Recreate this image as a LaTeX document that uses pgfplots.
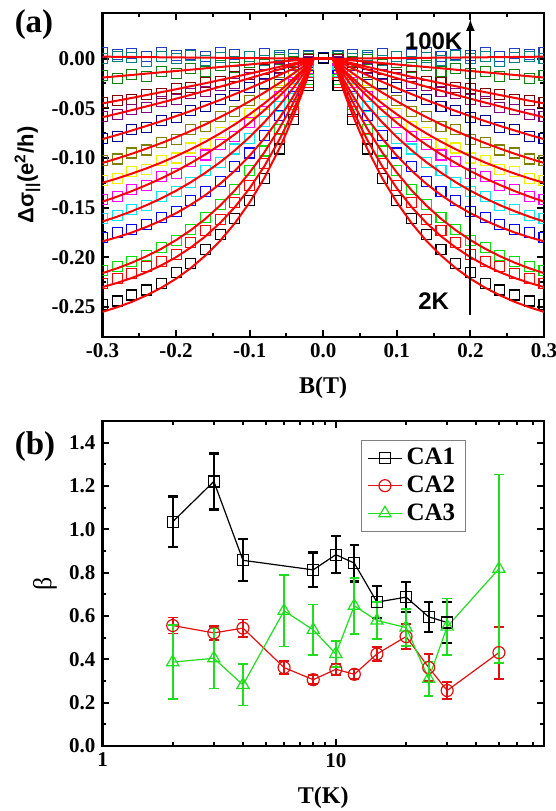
\documentclass[border=0pt]{standalone}
\usepackage{pgfplots}
\pgfplotsset{compat=1.18}
\usepackage{pgfplotstable}
\usepackage{fontspec}
\setmainfont{Liberation Serif}
\newfontfamily\arial{Liberation Sans}
\usetikzlibrary{arrows.meta}

\definecolor{cblack}{HTML}{000000}
\definecolor{cred}{HTML}{FF0000}
\definecolor{cgreen}{HTML}{00E000}
\definecolor{cblue}{HTML}{0000FF}
\definecolor{ccyan}{HTML}{00E8F0}
\definecolor{cmagenta}{HTML}{FF00FF}
\definecolor{cyellow}{HTML}{F0F000}
\definecolor{cdyellow}{HTML}{808000}
\definecolor{cnavy}{HTML}{000090}
\definecolor{cpurple}{HTML}{800080}
\definecolor{cwine}{HTML}{800000}
\definecolor{colive}{HTML}{108010}
\definecolor{cdcyan}{HTML}{008080}
\definecolor{croyal}{HTML}{2040C0}
\definecolor{bred}{HTML}{E01010}
\definecolor{bgreen}{HTML}{20DD20}

% squares, B >= 0 (mirrored for B < 0); c1 = 2K ... c14 = 100K
\pgfplotstableread{
B     c1     c2     c3     c4     c5     c6     c7     c8     c9     c10    c11    c12    c13    c14
0.00  0.000  0.000  0.000  0.000  0.000  0.000  0.000  0.000  0.001  0.001  0.001  0.001  0.001  0.001
0.02 -0.027 -0.024 -0.021 -0.017 -0.013 -0.010 -0.008 -0.006 -0.004 -0.003 -0.001  0.000  0.002  0.003
0.04 -0.061 -0.053 -0.046 -0.038 -0.030 -0.024 -0.021 -0.016 -0.011 -0.007 -0.004 -0.003  0.000  0.004
0.06 -0.091 -0.080 -0.071 -0.057 -0.048 -0.038 -0.032 -0.024 -0.016 -0.010 -0.009 -0.001  0.003  0.001
0.08 -0.121 -0.106 -0.093 -0.077 -0.063 -0.053 -0.046 -0.036 -0.025 -0.016 -0.011 -0.006 -0.002  0.005
0.10 -0.143 -0.128 -0.113 -0.095 -0.080 -0.064 -0.055 -0.042 -0.029 -0.019 -0.016 -0.004  0.002  0.002
0.12 -0.161 -0.145 -0.132 -0.109 -0.091 -0.078 -0.068 -0.053 -0.037 -0.025 -0.018 -0.009 -0.003  0.004
0.14 -0.177 -0.162 -0.147 -0.124 -0.105 -0.086 -0.074 -0.058 -0.041 -0.027 -0.023 -0.007  0.001  0.006
0.16 -0.192 -0.173 -0.160 -0.134 -0.113 -0.097 -0.085 -0.068 -0.048 -0.033 -0.024 -0.013 -0.002  0.002
0.18 -0.206 -0.185 -0.172 -0.143 -0.125 -0.104 -0.090 -0.071 -0.052 -0.035 -0.029 -0.010  0.003  0.004
0.20 -0.215 -0.197 -0.183 -0.154 -0.134 -0.116 -0.100 -0.081 -0.059 -0.041 -0.030 -0.015  0.000  0.003
0.22 -0.226 -0.204 -0.190 -0.160 -0.139 -0.119 -0.103 -0.084 -0.062 -0.043 -0.035 -0.013  0.002  0.006
0.24 -0.233 -0.209 -0.198 -0.167 -0.148 -0.128 -0.112 -0.092 -0.069 -0.049 -0.036 -0.018 -0.003  0.002
0.26 -0.238 -0.216 -0.204 -0.172 -0.152 -0.132 -0.114 -0.095 -0.071 -0.051 -0.041 -0.016  0.001  0.005
0.28 -0.244 -0.221 -0.209 -0.175 -0.158 -0.139 -0.121 -0.101 -0.078 -0.056 -0.042 -0.020  0.002  0.004
0.30 -0.248 -0.226 -0.213 -0.180 -0.161 -0.142 -0.123 -0.103 -0.080 -0.058 -0.044 -0.017  0.000  0.006
}\sq

% fit curves, B >= 0
\pgfplotstableread{
B      f1      f2      f3      f4      f5      f6      f7      f8      f9      f10     f11     f12     f13
0.000  0       0       0       0       0       0       0       0       0       0       0       0       0
0.013  0       0       0       0       0       0       0       0       0       0       0       0       0
0.02  -0.0159 -0.0143 -0.0121 -0.0103 -0.0079 -0.0062 -0.0054 -0.0039 -0.0026 -0.0017 -0.0013 -0.0005 0.0000
0.03  -0.0371 -0.0334 -0.0283 -0.0241 -0.0185 -0.0147 -0.0128 -0.0094 -0.0062 -0.0040 -0.0030 -0.0011 0.0001
0.04  -0.0566 -0.0510 -0.0435 -0.0370 -0.0287 -0.0228 -0.0198 -0.0147 -0.0098 -0.0063 -0.0048 -0.0018 0.0002
0.05  -0.0745 -0.0672 -0.0576 -0.0491 -0.0382 -0.0306 -0.0266 -0.0198 -0.0132 -0.0086 -0.0065 -0.0024 0.0003
0.06  -0.0910 -0.0820 -0.0707 -0.0602 -0.0473 -0.0380 -0.0330 -0.0247 -0.0166 -0.0109 -0.0083 -0.0031 0.0003
0.08  -0.1201 -0.1083 -0.0943 -0.0803 -0.0640 -0.0519 -0.0450 -0.0341 -0.0233 -0.0153 -0.0117 -0.0044 0.0005
0.10  -0.1447 -0.1305 -0.1147 -0.0977 -0.0789 -0.0646 -0.0560 -0.0429 -0.0296 -0.0197 -0.0150 -0.0058 0.0006
0.12  -0.1656 -0.1494 -0.1325 -0.1128 -0.0922 -0.0761 -0.0661 -0.0512 -0.0357 -0.0240 -0.0183 -0.0071 0.0007
0.14  -0.1833 -0.1653 -0.1478 -0.1259 -0.1042 -0.0867 -0.0752 -0.0588 -0.0416 -0.0282 -0.0215 -0.0084 0.0009
0.16  -0.1982 -0.1788 -0.1612 -0.1373 -0.1148 -0.0963 -0.0836 -0.0661 -0.0472 -0.0323 -0.0247 -0.0097 0.0010
0.18  -0.2109 -0.1902 -0.1727 -0.1471 -0.1244 -0.1051 -0.0912 -0.0728 -0.0527 -0.0364 -0.0277 -0.0111 0.0011
0.20  -0.2216 -0.1999 -0.1827 -0.1556 -0.1330 -0.1132 -0.0982 -0.0791 -0.0579 -0.0403 -0.0308 -0.0124 0.0013
0.22  -0.2307 -0.2081 -0.1914 -0.1630 -0.1406 -0.1205 -0.1046 -0.0850 -0.0629 -0.0442 -0.0337 -0.0137 0.0014
0.24  -0.2383 -0.2150 -0.1989 -0.1694 -0.1475 -0.1272 -0.1104 -0.0905 -0.0677 -0.0480 -0.0366 -0.0150 0.0016
0.26  -0.2449 -0.2208 -0.2054 -0.1750 -0.1536 -0.1333 -0.1157 -0.0957 -0.0723 -0.0518 -0.0395 -0.0164 0.0017
0.28  -0.2503 -0.2258 -0.2111 -0.1798 -0.1591 -0.1389 -0.1206 -0.1005 -0.0768 -0.0554 -0.0423 -0.0177 0.0019
0.30  -0.2550 -0.2300 -0.2160 -0.1840 -0.1640 -0.1440 -0.1250 -0.1050 -0.0810 -0.0590 -0.0450 -0.0190 0.0020
}\fit

\pgfplotstableread{
T  b     e
2  1.035 0.117
3  1.221 0.129
4  0.857 0.097
8  0.813 0.080
10 0.883 0.086
12 0.844 0.085
15 0.664 0.075
20 0.687 0.070
25 0.596 0.070
30 0.570 0.095
}\caone

\pgfplotstableread{
T  b     e
2  0.556 0.037
3  0.522 0.032
4  0.544 0.040
6  0.362 0.030
8  0.306 0.020
10 0.354 0.025
12 0.331 0.022
15 0.425 0.032
20 0.505 0.058
25 0.362 0.062
30 0.256 0.040
50 0.431 0.120
}\catwo

\pgfplotstableread{
T  b     e
2  0.387 0.170
3  0.405 0.140
4  0.282 0.095
6  0.624 0.165
8  0.536 0.117
10 0.425 0.060
12 0.647 0.130
15 0.579 0.085
20 0.547 0.085
25 0.310 0.080
30 0.551 0.130
50 0.818 0.435
}\cathree

\newcommand{\sqpair}[2]{%
  \addplot[only marks, mark=square, mark size=2.5pt, #2, mark options={line width=0.55pt}] table[x=B, y=#1] {\sq};
  \addplot[only marks, mark=square, mark size=2.5pt, #2, mark options={line width=0.55pt}] table[x expr=-\thisrow{B}, y=#1] {\sq};
}
\newcommand{\fitpair}[1]{%
  \addplot[cred, line width=1pt, no marks] table[x=B, y=#1] {\fit};
  \addplot[cred, line width=1pt, no marks] table[x expr=-\thisrow{B}, y=#1] {\fit};
}

\pgfplotsset{
  panel/.style={
    scale only axis,
    width=220.75pt,
    axis line style={line width=1.2pt},
    tick style={line width=1pt, black},
    tick align=inside,
    major tick length=3.5pt,
    minor tick length=2pt,
    ticklabel style={font=\bfseries\fontsize{10.5}{12}\selectfont},
    label style={font=\bfseries\fontsize{12}{14}\selectfont},
    clip marker paths=true,
  },
  ebar/.style={no marks, line width=0.6pt, forget plot,
    error bars/.cd, y dir=both, y explicit,
    error bar style={line width=#1},
    error mark options={rotate=90, mark size=2.4pt, line width=#1}},
}

\begin{document}
\begin{tikzpicture}
\useasboundingbox (0,0) rectangle (278pt,405.5pt);

\begin{axis}[panel,
  at={(51.25pt,237.15pt)}, anchor=south west,
  height=161.85pt,
  xmin=-0.3, xmax=0.3, ymin=-0.28, ymax=0.046,
  xtick={-0.3,-0.2,-0.1,0,0.1,0.2,0.3},
  xticklabels={-0.3,-0.2,-0.1,0.0,0.1,0.2,0.3},
  ytick={-0.25,-0.2,-0.15,-0.1,-0.05,0},
  yticklabels={-0.25,-0.20,-0.15,-0.10,-0.05,0.00},
  minor x tick num=1, minor y tick num=1,
  xlabel={B(T)},
  xlabel style={at={(axis description cs:0.5,-0.158)}, anchor=center},
  ylabel={\arial\bfseries\fontsize{11}{13}\selectfont Δσ\textsubscript{||}(e\textsuperscript{2}/h)},
  ylabel style={at={(axis description cs:-0.17,0.5)}, anchor=center},
]
\sqpair{c14}{croyal}
\sqpair{c13}{cdcyan}
\sqpair{c12}{colive}
\sqpair{c11}{cwine}
\sqpair{c10}{cpurple}
\sqpair{c9}{cnavy}
\sqpair{c8}{cdyellow}
\sqpair{c7}{cyellow}
\sqpair{c6}{cmagenta}
\sqpair{c5}{ccyan}
\sqpair{c4}{cblue}
\sqpair{c3}{cgreen}
\sqpair{c2}{cred}
\sqpair{c1}{cblack}
\fitpair{f13}
\fitpair{f12}
\fitpair{f11}
\fitpair{f10}
\fitpair{f9}
\fitpair{f8}
\fitpair{f7}
\fitpair{f6}
\fitpair{f5}
\fitpair{f4}
\fitpair{f3}
\fitpair{f2}
\fitpair{f1}
\draw[line width=1pt, -{Latex[length=6pt, width=4.5pt]}] (axis cs:0.2,-0.258) -- (axis cs:0.2,0.040);
\node[font=\arial\bfseries\fontsize{12}{14}\selectfont] at (axis cs:0.150,0.018) {100K};
\node[font=\arial\bfseries\fontsize{12}{14}\selectfont] at (axis cs:0.150,-0.244) {2K};
\end{axis}

\begin{axis}[panel,
  at={(51.25pt,32.5pt)}, anchor=south west,
  height=162.5pt,
  xmode=log, xmin=1, xmax=78, ymin=0, ymax=1.5,
  xtick={1,10}, xticklabels={1,10},
  minor xtick={2,3,4,5,6,7,8,9,20,30,40,50,60,70},
  ytick={0,0.2,0.4,0.6,0.8,1.0,1.2,1.4},
  yticklabels={0.0,0.2,0.4,0.6,0.8,1.0,1.2,1.4},
  minor y tick num=1,
  xlabel={T(K)},
  xlabel style={at={(axis description cs:0.5,-0.16)}, anchor=center},
  ylabel={\mdseries\fontsize{13}{15}\selectfont β},
  ylabel style={at={(axis description cs:-0.13,0.5)}, anchor=center},
  legend style={at={(0.585,0.942)}, anchor=north west, draw=gray, line width=0.5pt,
    font=\bfseries\fontsize{12.5}{14}\selectfont, inner xsep=3pt, inner ysep=2pt, row sep=0pt},
  legend cell align=left,
]
% error bars and connecting lines first, open marks on top
\addplot[black, ebar=1.1pt] table[x=T, y=b, y error=e] {\caone};
\addplot[bred, ebar=0.9pt] table[x=T, y=b, y error=e] {\catwo};
\addplot[bgreen, ebar=0.9pt] table[x=T, y=b, y error=e] {\cathree};

\addplot[black, line width=0.6pt, only marks, mark=square, mark size=2.75pt, forget plot,
  mark options={fill=white, line width=0.6pt}] table[x=T, y=b] {\caone};
\addplot[bred, line width=0.6pt, only marks, mark=o, mark size=3pt, forget plot,
  mark options={fill=white, line width=0.6pt}] table[x=T, y=b] {\catwo};
\addplot[bgreen, line width=0.6pt, only marks, mark=triangle, mark size=3.5pt, forget plot,
  mark options={fill=white, line width=0.6pt}] table[x=T, y=b] {\cathree};

\addlegendimage{black, line width=0.6pt, mark=square, mark size=2.75pt, mark options={fill=white}}
\addlegendentry{CA1}
\addlegendimage{bred, line width=0.6pt, mark=o, mark size=3pt, mark options={fill=white}}
\addlegendentry{CA2}
\addlegendimage{bgreen, line width=0.6pt, mark=triangle, mark size=3.5pt, mark options={fill=white}}
\addlegendentry{CA3}
\end{axis}

\node[font=\bfseries\fontsize{16.5}{18}\selectfont] at (17pt,393pt) {(a)};
\node[font=\bfseries\fontsize{16.5}{18}\selectfont] at (17.5pt,182pt) {(b)};
\end{tikzpicture}
\end{document}
